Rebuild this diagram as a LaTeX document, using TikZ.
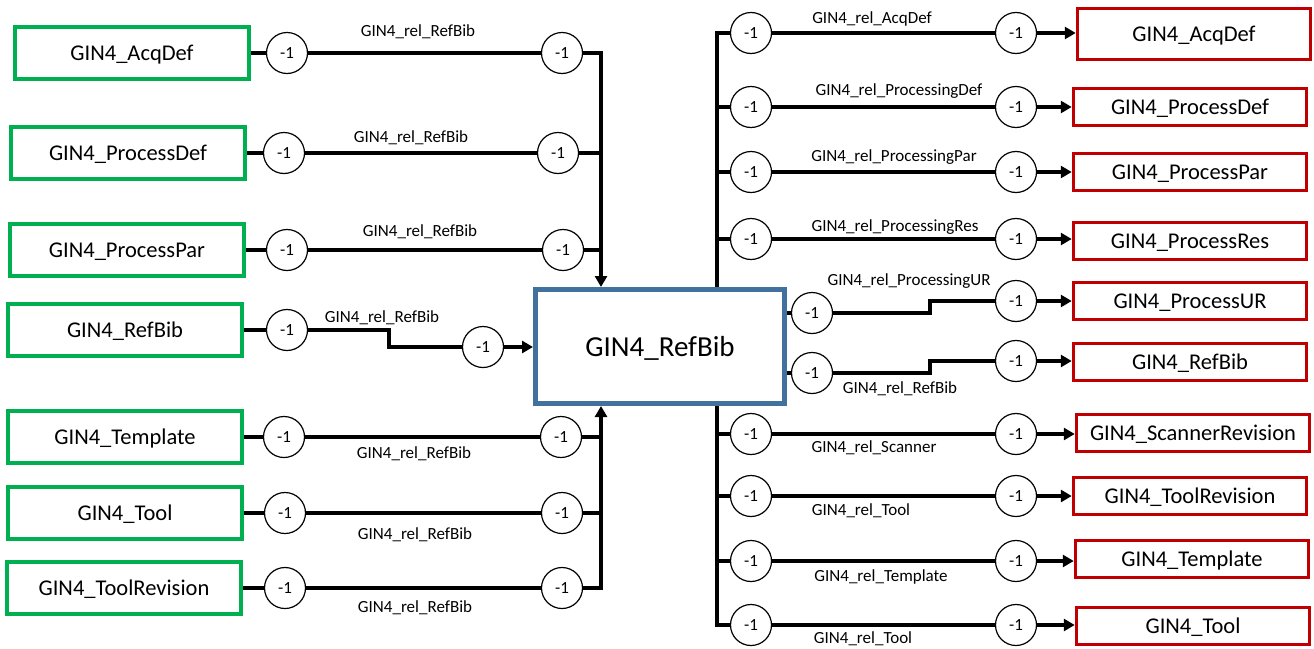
\documentclass[tikz,border=0pt]{standalone}
\usepackage{fontspec}
\setmainfont{Carlito}
\usepackage{xcolor}
\usepackage{tikz}
\usetikzlibrary{arrows.meta, positioning, calc}

\definecolor{srcgreen}{HTML}{00B050}
\definecolor{tgtred}{HTML}{C00000}
\definecolor{hubblue}{HTML}{41719C}

\begin{document}
\begin{tikzpicture}[
  x=1pt, y=-1pt,
  src/.style   ={rectangle, draw=srcgreen, line width=3.5pt, minimum width=234pt, minimum height=52pt, inner sep=0pt, text depth=0pt, font=\fontsize{22.5}{26}\selectfont},
  tgt/.style   ={rectangle, draw=tgtred, line width=3.5pt, minimum width=233pt, minimum height=37pt, inner sep=0pt, text depth=0pt, font=\fontsize{22.5}{26}\selectfont},
  hubbox/.style={rectangle, draw=hubblue, line width=5pt, minimum width=249pt, minimum height=114pt, inner sep=0pt, text depth=0pt, font=\fontsize{29}{33}\selectfont},
  card/.style  ={circle, draw, fill=white, line width=1.2pt, minimum size=41pt, inner sep=0pt, font=\fontsize{17}{19}\selectfont},
  rel/.style   ={inner sep=0pt, font=\fontsize{17}{19}\selectfont},
  conn/.style  ={line width=3.5pt},
  arr/.style   ={conn, -{Triangle[length=11pt, width=12pt]}}
  ]

  \useasboundingbox (0,0) rectangle (1314,648);

  % central class
  \node[hubbox] (refbib) at (660,346.5) {GIN4\_RefBib};
  \coordinate (lin)  at (601,0 |- refbib.north);
  \coordinate (lout) at (601,0 |- refbib.south);
  \coordinate (rin)  at (717,0 |- refbib.north);
  \coordinate (rout) at (717,0 |- refbib.south);

  % incoming (left)
  \node[src] (lb1) at (132,53)  {GIN4\_AcqDef};
  \node[src] (lb2) at (128,153) {GIN4\_ProcessDef};
  \node[src] (lb3) at (127,250) {GIN4\_ProcessPar};
  \node[src] (lb4) at (125,330) {GIN4\_RefBib};
  \node[src] (lb5) at (125,437) {GIN4\_Template};
  \node[src] (lb6) at (125,513) {GIN4\_Tool};
  \node[src] (lb7) at (124,588) {GIN4\_ToolRevision};

  \node[card] (la1) at (287,53)  {-1};  \node[card] (lz1) at (562,53)  {-1};
  \node[card] (la2) at (284,153) {-1};  \node[card] (lz2) at (558,153) {-1};
  \node[card] (la3) at (287,250) {-1};  \node[card] (lz3) at (563,250) {-1};
  \node[card] (la4) at (287,330) {-1};  \node[card] (lz4) at (483,347) {-1};
  \node[card] (la5) at (284,437) {-1};  \node[card] (lz5) at (561,437) {-1};
  \node[card] (la6) at (285,513) {-1};  \node[card] (lz6) at (562,513) {-1};
  \node[card] (la7) at (285,588) {-1};  \node[card] (lz7) at (562,588) {-1};

  \node[rel] (lt1) at (418,32)  {GIN4\_rel\_RefBib};
  \node[rel] (lt2) at (411,138) {GIN4\_rel\_RefBib};
  \node[rel] (lt3) at (420,232) {GIN4\_rel\_RefBib};
  \node[rel] (lt4) at (382,318) {GIN4\_rel\_RefBib};
  \node[rel] (lt5) at (414,454) {GIN4\_rel\_RefBib};
  \node[rel] (lt6) at (415,535) {GIN4\_rel\_RefBib};
  \node[rel] (lt7) at (415,608) {GIN4\_rel\_RefBib};

  % outgoing (right)
  \node[tgt, minimum height=51pt] (rb1) at (1194,34) {GIN4\_AcqDef};
  \node[tgt] (rb2)  at (1190,107) {GIN4\_ProcessDef};
  \node[tgt] (rb3)  at (1190,172) {GIN4\_ProcessPar};
  \node[tgt] (rb4)  at (1190,241) {GIN4\_ProcessRes};
  \node[tgt] (rb5)  at (1190,301) {GIN4\_ProcessUR};
  \node[tgt] (rb6)  at (1190,362) {GIN4\_RefBib};
  \node[tgt] (rb7)  at (1193,433) {GIN4\_ScannerRevision};
  \node[tgt] (rb8)  at (1190,496) {GIN4\_ToolRevision};
  \node[tgt] (rb9)  at (1192,559) {GIN4\_Template};
  \node[tgt] (rb10) at (1193,626) {GIN4\_Tool};

  \node[card] (ra1)  at (751,33)  {-1};  \node[card] (rz1)  at (1016,33)  {-1};
  \node[card] (ra2)  at (751,107) {-1};  \node[card] (rz2)  at (1016,107) {-1};
  \node[card] (ra3)  at (751,172) {-1};  \node[card] (rz3)  at (1016,172) {-1};
  \node[card] (ra4)  at (751,239) {-1};  \node[card] (rz4)  at (1016,239) {-1};
  \node[card] (ra5)  at (812,313) {-1};  \node[card] (rz5)  at (1016,301) {-1};
  \node[card] (ra6)  at (812,373) {-1};  \node[card] (rz6)  at (1016,361) {-1};
  \node[card] (ra7)  at (751,434) {-1};  \node[card] (rz7)  at (1016,434) {-1};
  \node[card] (ra8)  at (751,496) {-1};  \node[card] (rz8)  at (1016,496) {-1};
  \node[card] (ra9)  at (751,561) {-1};  \node[card] (rz9)  at (1016,561) {-1};
  \node[card] (ra10) at (751,625) {-1};  \node[card] (rz10) at (1016,625) {-1};

  \node[rel] (rt1)  at (872,19)  {GIN4\_rel\_AcqDef};
  \node[rel] (rt2)  at (899,91)  {GIN4\_rel\_ProcessingDef};
  \node[rel] (rt3)  at (894,157) {GIN4\_rel\_ProcessingPar};
  \node[rel] (rt4)  at (895,227) {GIN4\_rel\_ProcessingRes};
  \node[rel] (rt5)  at (909,281) {GIN4\_rel\_ProcessingUR};
  \node[rel] (rt6)  at (900,389) {GIN4\_rel\_RefBib};
  \node[rel] (rt7)  at (874,448) {GIN4\_rel\_Scanner};
  \node[rel] (rt8)  at (861,511) {GIN4\_rel\_Tool};
  \node[rel] (rt9)  at (881,577) {GIN4\_rel\_Template};
  \node[rel] (rt10) at (863,639) {GIN4\_rel\_Tool};

  % left connectors
  \draw[conn] (lb1) -- (la1);  \draw[conn] (la1) -- (lz1);
  \draw[conn] (lb2) -- (la2);  \draw[conn] (la2) -- (lz2);
  \draw[conn] (lb3) -- (la3);  \draw[conn] (la3) -- (lz3);
  \draw[conn] (lb4) -- (la4);  \draw[conn] (la4) -- (la4 -| 389,0) |- (lz4);
  \draw[conn] (lb5) -- (la5);  \draw[conn] (la5) -- (lz5);
  \draw[conn] (lb6) -- (la6);  \draw[conn] (la6) -- (lz6);
  \draw[conn] (lb7) -- (la7);  \draw[conn] (la7) -- (lz7);

  \draw[arr]  (lz1) -| (lin);
  \draw[conn] (lz2) -- (lz2 -| lin);
  \draw[conn] (lz3) -- (lz3 -| lin);
  \draw[arr]  (lz4) -- (lz4 -| refbib.west);
  \draw[arr]  (lz7) -| (lout);
  \draw[conn] (lz5) -- (lz5 -| lout);
  \draw[conn] (lz6) -- (lz6 -| lout);

  % right connectors
  \draw[conn] (rin) |- (ra1);
  \draw[conn] (ra2 -| rin) -- (ra2);
  \draw[conn] (ra3 -| rin) -- (ra3);
  \draw[conn] (ra4 -| rin) -- (ra4);
  \draw[conn] (ra5 -| refbib.east) -- (ra5);
  \draw[conn] (ra6 -| refbib.east) -- (ra6);
  \draw[conn] (ra7 -| rout) -- (ra7);
  \draw[conn] (ra8 -| rout) -- (ra8);
  \draw[conn] (ra9 -| rout) -- (ra9);
  \draw[conn] (rout) |- (ra10);

  \draw[conn] (ra1) -- (rz1);  \draw[arr] (rz1) -- (rz1 -| rb1.west);
  \draw[conn] (ra2) -- (rz2);  \draw[arr] (rz2) -- (rz2 -| rb2.west);
  \draw[conn] (ra3) -- (rz3);  \draw[arr] (rz3) -- (rz3 -| rb3.west);
  \draw[conn] (ra4) -- (rz4);  \draw[arr] (rz4) -- (rz4 -| rb4.west);
  \draw[conn] (ra5) -- (ra5 -| 930,0) |- (rz5);  \draw[arr] (rz5) -- (rz5 -| rb5.west);
  \draw[conn] (ra6) -- (ra6 -| 930,0) |- (rz6);  \draw[arr] (rz6) -- (rz6 -| rb6.west);
  \draw[conn] (ra7) -- (rz7);  \draw[arr] (rz7) -- (rz7 -| rb7.west);
  \draw[conn] (ra8) -- (rz8);  \draw[arr] (rz8) -- (rz8 -| rb8.west);
  \draw[conn] (ra9) -- (rz9);  \draw[arr] (rz9) -- (rz9 -| rb9.west);
  \draw[conn] (ra10) -- (rz10);  \draw[arr] (rz10) -- (rz10 -| rb10.west);

\end{tikzpicture}
\end{document}
